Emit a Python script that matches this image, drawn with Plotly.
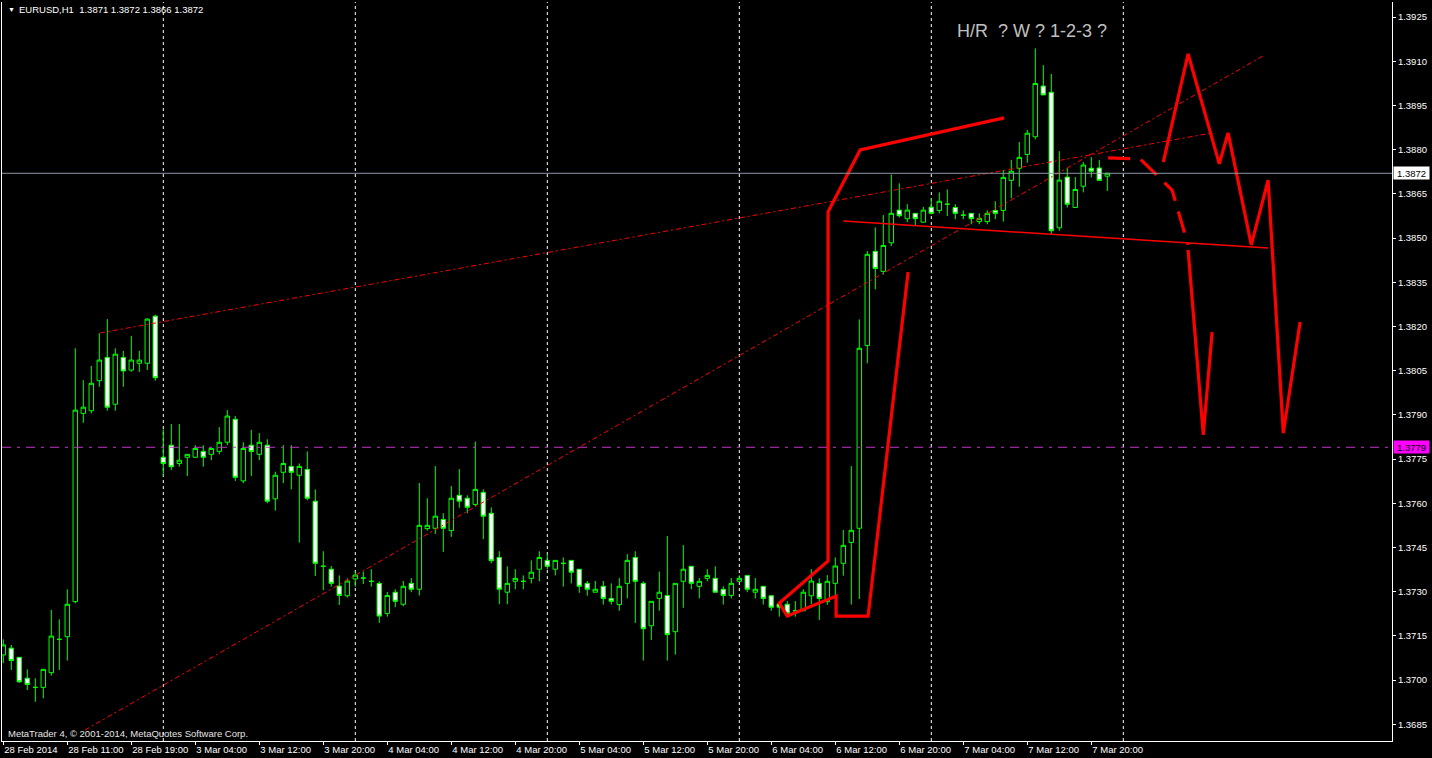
import plotly.graph_objects as go

# ---------------- data (EURUSD H1) ----------------
bars = list(range(139))  # 28 Feb 03:00 ... 7 Mar 22:00

opens = [1.37085, 1.37108, 1.37077, 1.37006, 1.36975, 1.36975, 1.37025, 1.37138, 1.37147, 1.37266,
         1.37905, 1.37914, 1.38016, 1.38095, 1.37936, 1.38095, 1.38052, 1.38075, 1.38075, 1.38235,
         1.37756, 1.37797, 1.37735, 1.37756, 1.37756, 1.37776, 1.37766, 1.37776, 1.37807, 1.37885,
         1.37676, 1.37797, 1.37766, 1.37797, 1.37615, 1.37705, 1.37725, 1.37695, 1.37715, 1.37607,
         1.37386, 1.37376, 1.37319, 1.37286, 1.37343, 1.37346, 1.37335, 1.37328, 1.37226, 1.37298,
         1.37257, 1.37328, 1.37308, 1.37514, 1.37515, 1.37545, 1.37507, 1.37627, 1.37617, 1.37596,
         1.37637, 1.37566, 1.37416, 1.37298, 1.37335, 1.37335, 1.37345, 1.37376, 1.37406, 1.37376,
         1.37396, 1.37406, 1.37376, 1.37328, 1.37298, 1.37318, 1.37277, 1.37256, 1.37328, 1.37416,
         1.37328, 1.37184, 1.37277, 1.37287, 1.37164, 1.37335, 1.37386, 1.37318, 1.37345, 1.37345,
         1.37308, 1.37287, 1.37335, 1.37355, 1.37298, 1.37318, 1.37286, 1.37258, 1.37257, 1.37235,
         1.37235, 1.37286, 1.37328, 1.37266, 1.37328, 1.37396, 1.37467, 1.37515, 1.38135, 1.38455,
         1.38387, 1.38484, 1.38595, 1.38566, 1.38584, 1.38554, 1.38605, 1.38594, 1.38615, 1.38604,
         1.38578, 1.38584, 1.38556, 1.38556, 1.38594, 1.38594, 1.38696, 1.38737, 1.38784, 1.38844,
         1.39016, 1.38995, 1.38535, 1.38707, 1.38604, 1.38676, 1.38737, 1.38738, 1.38710]

highs = [1.37138, 1.37119, 1.37077, 1.37036, 1.37006, 1.37036, 1.37238, 1.37206, 1.37308, 1.38126,
         1.38018, 1.38066, 1.38177, 1.38225, 1.38126, 1.38117, 1.38168, 1.38117, 1.38228, 1.38240,
         1.37851, 1.37869, 1.37869, 1.37766, 1.37797, 1.37797, 1.37786, 1.37858, 1.37916, 1.37896,
         1.37807, 1.37849, 1.37838, 1.37817, 1.37707, 1.37797, 1.37797, 1.37735, 1.37776, 1.37647,
         1.37437, 1.37387, 1.37355, 1.37345, 1.37368, 1.37368, 1.37376, 1.37335, 1.37299, 1.37308,
         1.37336, 1.37346, 1.37669, 1.37617, 1.37726, 1.37566, 1.37658, 1.37716, 1.37627, 1.37809,
         1.37647, 1.37586, 1.37437, 1.37386, 1.37376, 1.37355, 1.37406, 1.37437, 1.37427, 1.37406,
         1.37416, 1.37406, 1.37376, 1.37336, 1.37336, 1.37336, 1.37328, 1.37346, 1.37427, 1.37437,
         1.37335, 1.37267, 1.37368, 1.37489, 1.37328, 1.37458, 1.37386, 1.37346, 1.37376, 1.37386,
         1.37318, 1.37346, 1.37355, 1.37355, 1.37346, 1.37318, 1.37286, 1.37258, 1.37268, 1.37268,
         1.37308, 1.37376, 1.37345, 1.37356, 1.37416, 1.37509, 1.37726, 1.38224, 1.38456, 1.38536,
         1.38578, 1.38716, 1.38686, 1.38615, 1.38584, 1.38606, 1.38635, 1.38655, 1.38665, 1.38615,
         1.38594, 1.38584, 1.38584, 1.38594, 1.38625, 1.38731, 1.38765, 1.38826, 1.38867, 1.39144,
         1.39087, 1.39057, 1.38795, 1.38738, 1.38707, 1.38758, 1.38775, 1.38765, 1.38720]

lows = [1.37057, 1.37034, 1.36990, 1.36966, 1.36926, 1.36938, 1.37015, 1.37034, 1.37066, 1.37260,
        1.37873, 1.37905, 1.37995, 1.37914, 1.37914, 1.37995, 1.38046, 1.38046, 1.38052, 1.38016,
        1.37692, 1.37713, 1.37724, 1.37692, 1.37756, 1.37724, 1.37746, 1.37766, 1.37797, 1.37676,
        1.37668, 1.37692, 1.37746, 1.37600, 1.37575, 1.37668, 1.37647, 1.37466, 1.37610, 1.37353,
        1.37305, 1.37317, 1.37255, 1.37280, 1.37317, 1.37326, 1.37317, 1.37194, 1.37215, 1.37247,
        1.37250, 1.37298, 1.37287, 1.37507, 1.37496, 1.37435, 1.37486, 1.37585, 1.37566, 1.37590,
        1.37478, 1.37396, 1.37257, 1.37257, 1.37308, 1.37308, 1.37328, 1.37335, 1.37376, 1.37355,
        1.37317, 1.37328, 1.37296, 1.37286, 1.37298, 1.37256, 1.37256, 1.37235, 1.37277, 1.37194,
        1.37066, 1.37136, 1.37235, 1.37066, 1.37086, 1.37245, 1.37308, 1.37277, 1.37335, 1.37298,
        1.37256, 1.37277, 1.37335, 1.37298, 1.37277, 1.37256, 1.37235, 1.37215, 1.37215, 1.37215,
        1.37235, 1.37257, 1.37204, 1.37255, 1.37283, 1.37354, 1.37256, 1.37275, 1.38075, 1.38326,
        1.38376, 1.38473, 1.38570, 1.38554, 1.38544, 1.38554, 1.38580, 1.38584, 1.38575, 1.38564,
        1.38564, 1.38547, 1.38547, 1.38547, 1.38564, 1.38556, 1.38635, 1.38674, 1.38756, 1.38835,
        1.38986, 1.38514, 1.38525, 1.38604, 1.38604, 1.38655, 1.38706, 1.38696, 1.38660]

closes = [1.37119, 1.37066, 1.36994, 1.36985, 1.36975, 1.37036, 1.37149, 1.37138, 1.37257, 1.37916,
          1.37926, 1.38007, 1.38086, 1.37926, 1.38106, 1.38049, 1.38086, 1.38086, 1.38225, 1.38026,
          1.37735, 1.37724, 1.37746, 1.37766, 1.37786, 1.37756, 1.37786, 1.37807, 1.37896, 1.37688,
          1.37786, 1.37776, 1.37807, 1.37607, 1.37695, 1.37735, 1.37705, 1.37725, 1.37617, 1.37396,
          1.37386, 1.37328, 1.37287, 1.37336, 1.37356, 1.37346, 1.37335, 1.37217, 1.37287, 1.37267,
          1.37318, 1.37308, 1.37525, 1.37525, 1.37556, 1.37515, 1.37617, 1.37607, 1.37586, 1.37647,
          1.37556, 1.37405, 1.37308, 1.37328, 1.37345, 1.37335, 1.37366, 1.37416, 1.37386, 1.37406,
          1.37396, 1.37366, 1.37318, 1.37308, 1.37308, 1.37277, 1.37267, 1.37318, 1.37406, 1.37335,
          1.37174, 1.37267, 1.37298, 1.37154, 1.37328, 1.37376, 1.37328, 1.37335, 1.37355, 1.37298,
          1.37287, 1.37328, 1.37345, 1.37308, 1.37308, 1.37277, 1.37247, 1.37247, 1.37226, 1.37235,
          1.37298, 1.37336, 1.37277, 1.37335, 1.37387, 1.37457, 1.37508, 1.38126, 1.38445, 1.38397,
          1.38475, 1.38584, 1.38576, 1.38595, 1.38566, 1.38595, 1.38584, 1.38625, 1.38615, 1.38584,
          1.38578, 1.38566, 1.38567, 1.38584, 1.38584, 1.38706, 1.38727, 1.38774, 1.38856, 1.39025,
          1.38986, 1.38525, 1.38697, 1.38615, 1.38665, 1.38748, 1.38727, 1.38696, 1.38720]

time_tick_bars = list(range(0, 139, 8))
time_tick_labels = ["28 Feb 2014", "28 Feb 11:00", "28 Feb 19:00", "3 Mar 04:00", "3 Mar 12:00",
                    "3 Mar 20:00", "4 Mar 04:00", "4 Mar 12:00", "4 Mar 20:00", "5 Mar 04:00",
                    "5 Mar 12:00", "5 Mar 20:00", "6 Mar 04:00", "6 Mar 12:00", "6 Mar 20:00",
                    "7 Mar 04:00", "7 Mar 12:00", "7 Mar 20:00"]
day_separator_bars = [20, 44, 68, 92, 116, 140]

price_ticks = [1.3685 + 0.0015 * k for k in range(17)]
price_tick_labels = ["%.4f" % p for p in price_ticks]

bid_price = 1.3872
alert_price = 1.3779

# hand-drawn objects (bar index, price)
upper_trend_x = [12.1, 151.1]
upper_trend_p = [1.38178, 1.38857]
lower_trend_x = [10.2, 157.7]
lower_trend_p = [1.36830, 1.39122]
neck_x = [105.0, 158.1]
neck_p = [1.38558, 1.38466]
pattern_x = [125.1, 107.1, 103.1, 103.1, 97.0, 98.0, 104.1, 104.1, 108.1, 113.1]
pattern_p = [1.38908, 1.38799, 1.38589, 1.37404, 1.37261, 1.37217, 1.37285, 1.37217, 1.37217, 1.38385]
proj_a_x = [145.0, 148.1, 152.0, 153.1, 156.0, 158.1, 160.0, 162.1]
proj_a_p = [1.38758, 1.39125, 1.38752, 1.38857, 1.38477, 1.38697, 1.37838, 1.38215]
proj_b_dash_x = [138.1, 142.1, 146.1, 148.1]
proj_b_dash_p = [1.38772, 1.38769, 1.38663, 1.38477]
proj_b_x = [148.1, 150.0, 151.1]
proj_b_p = [1.38460, 1.37832, 1.38181]

title_text = "EURUSD,H1  1.3871 1.3872 1.3866 1.3872"
comment_text = "H/R  ? W ? 1-2-3 ?"
comment_x, comment_p = 119.0, 1.39203
copyright_text = "MetaTrader 4, \u00a9 2001-2014, MetaQuotes Software Corp."

# ---------------- figure ----------------
W, H = 1432, 758
ML, MR, MT, MB = 2, 40, 2, 17
FONT = "Liberation Sans, Arial, sans-serif"


def px_to_paper(px, py):
    return (px - ML) / (W - ML - MR), 1 - (py - MT) / (H - MT - MB)


fig = go.Figure()

fig.add_trace(go.Candlestick(
    x=bars, open=opens, high=highs, low=lows, close=closes,
    increasing=dict(line=dict(color="#00ff00", width=1), fillcolor="#000000"),
    decreasing=dict(line=dict(color="#00ff00", width=1), fillcolor="#ffffff"),
    whiskerwidth=0, hoverinfo="skip", showlegend=False))

red = "#ff0000"
dashdot = "5px,3px,2px,3px"
for xs, ps in [(upper_trend_x, upper_trend_p), (lower_trend_x, lower_trend_p)]:
    fig.add_trace(go.Scatter(x=xs, y=ps, mode="lines", line=dict(color=red, width=1, dash=dashdot),
                             hoverinfo="skip", showlegend=False))
fig.add_trace(go.Scatter(x=neck_x, y=neck_p, mode="lines", line=dict(color=red, width=1.5),
                         hoverinfo="skip", showlegend=False))
for xs, ps in [(pattern_x, pattern_p), (proj_a_x, proj_a_p), (proj_b_x, proj_b_p)]:
    fig.add_trace(go.Scatter(x=xs, y=ps, mode="lines", line=dict(color=red, width=3.2),
                             hoverinfo="skip", showlegend=False))
fig.add_trace(go.Scatter(x=proj_b_dash_x, y=proj_b_dash_p, mode="lines",
                         line=dict(color=red, width=3.2, dash="22px,11px"),
                         hoverinfo="skip", showlegend=False))

shapes = []
for b in day_separator_bars:
    shapes.append(dict(type="line", xref="x", yref="paper", x0=b, x1=b, y0=0, y1=1,
                       line=dict(color="#ffffff", width=1, dash="3px,3px"), layer="below"))
shapes.append(dict(type="line", xref="paper", yref="y", x0=0, x1=1, y0=bid_price, y1=bid_price,
                   line=dict(color="#8a98a6", width=1), layer="above"))
shapes.append(dict(type="line", xref="paper", yref="y", x0=0, x1=1, y0=alert_price, y1=alert_price,
                   line=dict(color="#c832c8", width=1, dash="9px,6px,3px,6px"), layer="above"))

annotations = []
hx, hy = px_to_paper(6, 10)
annotations.append(dict(xref="paper", yref="paper", x=hx, y=hy, text="\u25bc", showarrow=False,
                        xanchor="left", yanchor="middle", font=dict(family=FONT, size=7, color="#ffffff")))
hx, hy = px_to_paper(17, 10)
annotations.append(dict(xref="paper", yref="paper", x=hx, y=hy, text=title_text, showarrow=False,
                        xanchor="left", yanchor="middle", font=dict(family=FONT, size=9.5, color="#ffffff")))
cx, cy = px_to_paper(6, 733)
annotations.append(dict(xref="paper", yref="paper", x=cx, y=cy, text=copyright_text, showarrow=False,
                        xanchor="left", yanchor="middle", font=dict(family=FONT, size=9.5, color="#e6e6e6")))
annotations.append(dict(xref="x", yref="y", x=comment_x, y=comment_p, text=comment_text, showarrow=False,
                        xanchor="left", yanchor="middle", font=dict(family=FONT, size=18, color="#c0c0c0")))
for price, bg in [(bid_price, "#ffffff"), (alert_price, "#ff00ff")]:
    annotations.append(dict(xref="paper", yref="y", x=1, y=price, xshift=1, text="%.4f" % price,
                            showarrow=False, xanchor="left", yanchor="middle", bgcolor=bg,
                            width=35, height=12, align="center", borderpad=0,
                            font=dict(family=FONT, size=9.5, color="#000000")))

x0 = (ML - 3.3) / 8.0
x1 = (W - MR - 3.3) / 8.0
y_top = 1.37 + (680 - MT) / 29460.0
y_bot = 1.37 - (H - MB - 680) / 29460.0

fig.update_layout(
    width=W, height=H,
    margin=dict(l=ML, r=MR, t=MT, b=MB, pad=0, autoexpand=False),
    paper_bgcolor="#000000", plot_bgcolor="#000000",
    font=dict(family=FONT, color="#ffffff", size=9.5),
    boxgap=0.3, boxgroupgap=0.2,
    showlegend=False,
    shapes=shapes, annotations=annotations,
    xaxis=dict(range=[x0, x1], rangeslider=dict(visible=False), showgrid=False, zeroline=False,
               automargin=False, tickangle=0,
               tickmode="array", tickvals=time_tick_bars, ticktext=time_tick_labels,
               ticks="outside", ticklen=3, tickcolor="#ffffff", ticklabelposition="outside right",
               showline=True, linecolor="#ffffff", linewidth=1, mirror=False,
               tickfont=dict(family=FONT, size=9.5, color="#ffffff")),
    yaxis=dict(range=[y_bot, y_top], side="right", showgrid=False, zeroline=False,
               automargin=False,
               tickmode="array", tickvals=price_ticks, ticktext=price_tick_labels,
               ticks="outside", ticklen=3, tickcolor="#ffffff",
               showline=True, linecolor="#ffffff", linewidth=1, mirror=True,
               tickfont=dict(family=FONT, size=9.5, color="#ffffff")),
)

fig.write_html("out.html", config={"displayModeBar": False},
               post_script="document.body.style.margin='0px';document.body.style.background='#000000';")
